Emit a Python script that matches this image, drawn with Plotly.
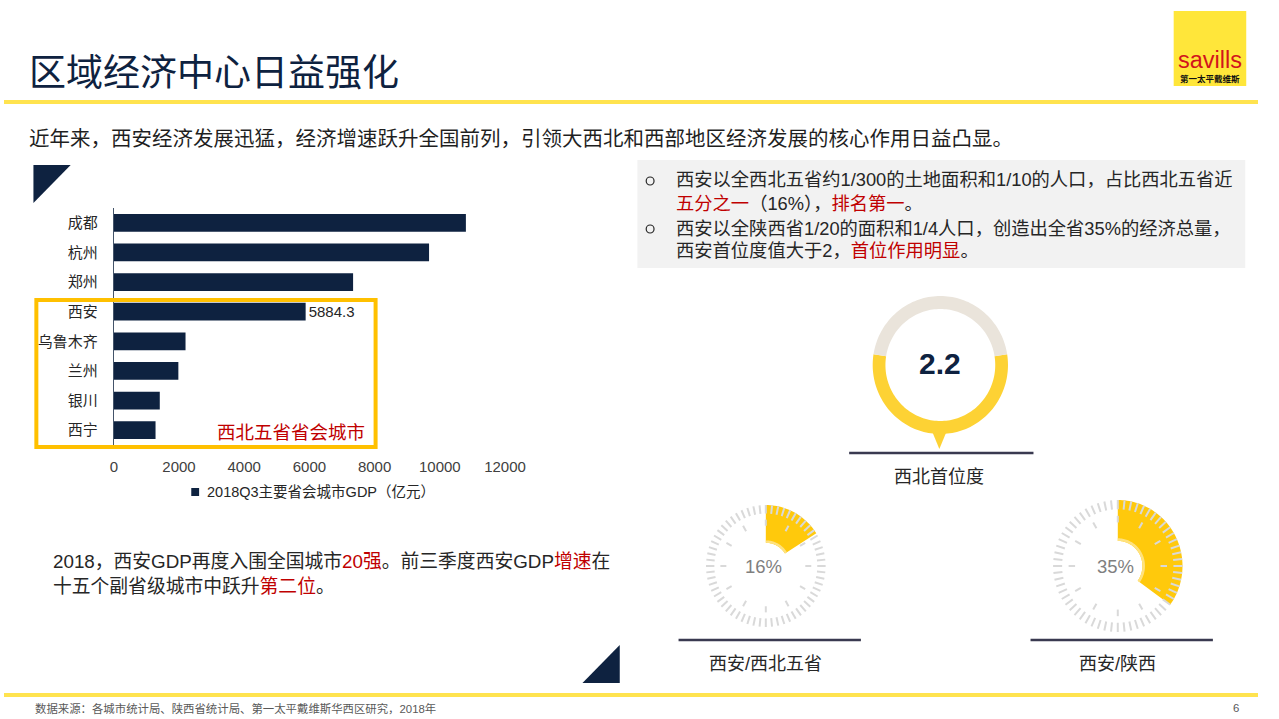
import numpy as np
import plotly.graph_objects as go

W, H = 1279, 719

# ---------------- data ----------------
cities = ['成都', '杭州', '郑州', '西安', '乌鲁木齐', '兰州', '银川', '西宁']
gdp_2018q3 = [10800, 9670, 7340, 5884.3, 2200, 1980, 1410, 1280]
labelled_city = '西安'
x_ticks = [0, 2000, 4000, 6000, 8000, 10000, 12000]
x_tick_text = ['0', '2000', '4000', '6000', '8000', '10000', '12000']
series_name = '2018Q3主要省会城市GDP（亿元）'

primacy_value = 2.2
primacy_max = 4.0
share_labels = ['西安/西北五省', '西安/陕西']
share_values = [16, 35]

# ---------------- styles ----------------
FONT = 'Liberation Sans, Noto Sans CJK SC, sans-serif'
CJK = 'Noto Sans CJK SC, Liberation Sans, sans-serif'
NAVY = '#0E2240'
RED = '#C00000'
TXT = '#262626'
GAUGE_Y = '#FFC90C'

def X(x):
    return x / W

def Y(y):
    return 1 - y / H

shapes = []
annotations = []

def rect(x0, y0, x1, y1, fill='rgba(0,0,0,0)', line='rgba(0,0,0,0)', lw=0, layer='above'):
    shapes.append(dict(type='rect', xref='paper', yref='paper', x0=X(x0), x1=X(x1),
                       y0=Y(y1), y1=Y(y0), fillcolor=fill,
                       line=dict(color=line, width=lw), layer=layer))

def poly(pts, fill, layer='above'):
    path = 'M ' + ' L '.join(f'{X(x):.5f},{Y(y):.5f}' for x, y in pts) + ' Z'
    shapes.append(dict(type='path', xref='paper', yref='paper', path=path,
                       fillcolor=fill, line=dict(width=0, color=fill), layer=layer))

def seg(x0, y0, x1, y1, color, w):
    shapes.append(dict(type='line', xref='paper', yref='paper', x0=X(x0), y0=Y(y0),
                       x1=X(x1), y1=Y(y1), line=dict(color=color, width=w)))

def sector(cx, cy, r0, r1, a0, a1):
    n = max(8, int(abs(a1 - a0) / 2))
    angs = np.radians(np.linspace(a0, a1, n))
    outer = [(cx + r1 * np.cos(a), cy - r1 * np.sin(a)) for a in angs]
    inner = [(cx + r0 * np.cos(a), cy - r0 * np.sin(a)) for a in angs[::-1]]
    return outer + inner

def text(x, y, s, size, color=TXT, anchor='left', family=FONT, vanchor='middle'):
    annotations.append(dict(xref='paper', yref='paper', x=X(x), y=Y(y), text=s,
                            showarrow=False, xanchor=anchor, yanchor=vanchor,
                            font=dict(size=size, color=color, family=family)))

def red(s):
    return f"<span style='color:{RED}'>{s}</span>"

# ---------------- bar chart ----------------
fig = go.Figure()
fig.add_trace(go.Bar(
    x=gdp_2018q3, y=cities, orientation='h', name=series_name,
    marker=dict(color=NAVY, line=dict(width=0)),
    text=[f'{v:g}' if c == labelled_city else '' for c, v in zip(cities, gdp_2018q3)],
    textposition='outside', textfont=dict(size=15, color=TXT, family=FONT),
    cliponaxis=False, showlegend=False, hoverinfo='skip'))

# ---------------- header ----------------
text(23, 70, '区域经济中心日益强化', 37, color=NAVY, family=CJK)
rect(0, 100, W, 104, fill='#FFE34F')
rect(1193, 11, 1267, 86, fill='#FFE63A')
text(1230, 60, 'savills', 23.5, color='#D2141C', anchor='center', family='Liberation Sans, sans-serif')
text(1230, 78, '<b>第一太平戴维斯</b>', 8.5, color='#111111', anchor='center', family=CJK)

text(23, 139, '近年来，西安经济发展迅猛，经济增速跃升全国前列，引领大西北和西部地区经济发展的核心作用日益凸显。',
     20.5, color='#1F1F1F')

# decorative triangles
poly([(30, 165), (68, 165), (30, 203)], NAVY)
poly([(590, 683), (628, 683), (628, 645)], NAVY)

# highlight box and caption
rect(33, 300, 379, 447, line='#FFC000', lw=4)
text(370, 432, '西北五省省会城市', 18.5, color=RED, anchor='right')

# legend
rect(191, 488, 199, 496, fill=NAVY)
text(205, 492, series_name, 14.5, color=TXT)

# bottom-left paragraph
text(48, 561, '2018，西安GDP再度入围全国城市' + red('20强') + '。前三季度西安GDP' + red('增速') + '在', 18.8)
text(48, 586, '十五个副省级城市中跃升' + red('第二位') + '。', 18.8)

# ---------------- right panel ----------------
rect(646, 160, 1266, 268, fill='#F2F2F2', layer='below')
for yy in (181, 229):
    shapes.append(dict(type='circle', xref='paper', yref='paper', x0=X(655), x1=X(663),
                       y0=Y(yy + 4), y1=Y(yy - 4), line=dict(color=TXT, width=1.2)))
text(683, 180, '西安以全西北五省约1/300的土地面积和1/10的人口，占比西北五省近', 18.3)
text(683, 204, red('五分之一') + '（16%），' + red('排名第一') + '。', 18.3)
text(683, 229, '西安以全陕西省1/20的面积和1/4人口，创造出全省35%的经济总量，', 18.3)
text(683, 251, '西安首位度值大于2，' + red('首位作用明显') + '。', 18.3)

# primacy ring
cx, cy, ro, ri = 955, 365, 69, 56
span = 360 * primacy_value / primacy_max
poly(sector(cx, cy, ri, ro, 270 - span / 2, 270 + span / 2), '#FDD234')
poly(sector(cx, cy, ri, ro, 270 + span / 2 - 360, 270 - span / 2), '#EAE4DB')
poly([(946, 430), (962, 430), (954, 449)], '#FDD234')
seg(862, 453, 1050, 453, '#3A3A50', 2.5)
text(cx, 364, '<b>2.2</b>', 30, color=NAVY, anchor='center', family='Liberation Sans, sans-serif')
text(954, 477, '西北首位度', 18, anchor='center')

# share gauges
gauges = [(777, 566, 61), (1136, 566, 66)]
lines_x = [(688, 874), (1047, 1233)]
for (gx, gy, R), pct, lab, (lx0, lx1) in zip(gauges, share_values, share_labels, lines_x):
    a_end = 90 - 360 * pct / 100
    poly(sector(gx, gy, 0.38 * R, R, 90, a_end), GAUGE_Y)
    poly(sector(gx, gy, 0.38 * R, 0.42 * R, 90, a_end), '#FFE27F')
    for k in range(60):
        a = np.radians(90 - 6 * k)
        seg(gx + 0.86 * R * np.cos(a), gy - 0.86 * R * np.sin(a),
            gx + R * np.cos(a), gy - R * np.sin(a), '#D9D9D9', 2)
    for k in range(12):
        a = np.radians(90 - 30 * k)
        seg(gx + 0.66 * R * np.cos(a), gy - 0.66 * R * np.sin(a),
            gx + 0.76 * R * np.cos(a), gy - 0.76 * R * np.sin(a), '#D9D9D9', 2)
    text(gx - 2, gy, f'{pct}%', 18.5, color='#7F7F7F', anchor='center')
    seg(lx0, 640, lx1, 640, '#3A3A50', 2.5)
    text((lx0 + lx1) / 2 - 4, 664, lab, 18, anchor='center')

# ---------------- footer ----------------
rect(0, 693, W, 697, fill='#FFE34F')
text(30, 708, '数据来源：各城市统计局、陕西省统计局、第一太平戴维斯华西区研究，2018年', 11.4, color='#595959')
text(1262, 708, '6', 11.4, color='#595959', anchor='right')

fig.update_layout(
    width=W, height=H, autosize=False,
    margin=dict(l=0, r=0, t=0, b=0, pad=0),
    paper_bgcolor='white', plot_bgcolor='white',
    bargap=0.4, showlegend=False,
    font=dict(family=FONT, color=TXT),
    xaxis=dict(domain=[X(112), X(511)], range=[0, 12000], tickvals=x_ticks,
               ticktext=x_tick_text,
               showgrid=False, zeroline=False, showline=False,
               ticks='outside', ticklen=8, tickcolor='rgba(0,0,0,0)',
               tickfont=dict(size=15, color='#404040', family=FONT), fixedrange=True),
    yaxis=dict(domain=[Y(445), Y(208)], categoryorder='array', categoryarray=cities,
               range=[len(cities) - 0.5, -0.5], showgrid=False, zeroline=False,
               showline=True, linecolor='#44546A', linewidth=1,
               ticks='outside', ticklen=12, tickcolor='rgba(0,0,0,0)',
               tickfont=dict(size=15, color='#262626', family=FONT), fixedrange=True),
    shapes=shapes, annotations=annotations,
)

fig.write_html('out.html')
